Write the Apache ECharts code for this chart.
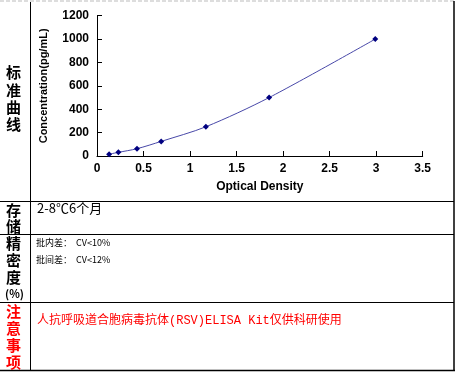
<!DOCTYPE html>
<html><head><meta charset="utf-8">
<script src="https://cdn.jsdelivr.net/npm/echarts@6/dist/echarts.min.js"></script>
<style>html,body{margin:0;padding:0;background:#fff}#c{width:456px;height:372px}</style>
</head><body><div id="c"></div>
<script>
const opticalDensity = [0.13, 0.23, 0.43, 0.69, 1.17, 1.85, 2.99];
const concentration = [15.6, 31.25, 62.5, 125, 250, 500, 1000];
const rowLabels = ['标准曲线', '存储', '精密度(%)', '注意事项'];
const storageText = '2-8℃6个月';
const precisionLines = ['批内差：  CV<10%', '批间差：  CV<12%'];
const noteText = '人抗呼吸道合胞病毒抗体(RSV)ELISA Kit仅供科研使用';

const chart = echarts.init(document.getElementById('c'));
const ax = {fontFamily: 'Liberation Sans, Arial', fontWeight: 'bold', fontSize: 12, color: '#000'};
const cjk = '"Noto Sans CJK SC"';
function vtext(chars, x, ys, color) {
  return chars.map((ch, i) => ({type: 'text', left: x, top: ys[i], style: {text: ch, fill: color, font: 'bold 15px ' + cjk, textAlign: 'center'}}));
}
const graphics = [
  {type: 'line', shape: {x1: 0, y1: 1, x2: 454, y2: 1}, style: {stroke: '#bbb', lineWidth: 1, lineDash: [4, 2]}},
  {type: 'line', shape: {x1: 30.5, y1: 2, x2: 30.5, y2: 370}, style: {stroke: '#000', lineWidth: 1}},
  {type: 'line', shape: {x1: 454, y1: 1, x2: 454, y2: 371}, style: {stroke: '#000', lineWidth: 1.5}},
  {type: 'line', shape: {x1: 0, y1: 370.5, x2: 455, y2: 370.5}, style: {stroke: '#000', lineWidth: 1.5}},
  {type: 'line', shape: {x1: 0, y1: 201.5, x2: 454, y2: 201.5}, style: {stroke: '#000', lineWidth: 1}},
  {type: 'line', shape: {x1: 0, y1: 234.5, x2: 454, y2: 234.5}, style: {stroke: '#000', lineWidth: 1}},
  {type: 'line', shape: {x1: 0, y1: 302.5, x2: 454, y2: 302.5}, style: {stroke: '#000', lineWidth: 1}},
  {type: 'text', left: 37, top: 202, style: {text: storageText, fill: '#000', font: '13px ' + cjk}},
  {type: 'text', left: 36, top: 238, style: {text: precisionLines[0], fill: '#000', font: '9px ' + cjk}},
  {type: 'text', left: 36, top: 255, style: {text: precisionLines[1], fill: '#000', font: '9px ' + cjk}},
  {type: 'text', left: 37, top: 315, style: {text: noteText, fill: '#f00', font: '12px "Liberation Mono", ' + cjk}}
];
const l0 = rowLabels[0].split('');
const l1 = rowLabels[1].split('');
const l2 = ['精', '密', '度', '(%)'];
const l3 = rowLabels[3].split('');
graphics.push(...vtext(l0, 6, [65, 83, 100, 117], '#000'));
graphics.push(...vtext(l1, 6, [203, 219], '#000'));
graphics.push(...vtext(l2.slice(0, 3), 6, [236, 253, 270], '#000'));
graphics.push({type: 'text', left: 5, top: 288, style: {text: l2[3], fill: '#000', font: 'bold 11px ' + cjk}});
graphics.push(...vtext(l3, 6, [304, 321, 338, 355], '#f00'));

chart.setOption({
  animation: false,
  grid: {left: 97, right: 33.3, top: 15.7, bottom: 216},
  xAxis: {
    type: 'value', min: 0, max: 3.5, interval: 0.5,
    name: 'Optical Density', nameLocation: 'middle', nameGap: 25,
    nameTextStyle: ax,
    axisLine: {lineStyle: {color: '#000'}},
    axisTick: {inside: true, length: 5, lineStyle: {color: '#000'}},
    axisLabel: Object.assign({margin: 7, formatter: v => String(v)}, ax),
    splitLine: {show: false}
  },
  yAxis: {
    type: 'value', min: 0, max: 1200, interval: 200,
    name: 'Concentration(pg/mL)', nameLocation: 'middle', nameGap: 48,
    nameTextStyle: Object.assign({}, ax, {fontSize: 11}),
    axisLine: {show: true, lineStyle: {color: '#000'}},
    axisTick: {show: true, inside: true, length: 5, lineStyle: {color: '#000'}},
    axisLabel: Object.assign({margin: 8, formatter: v => String(v)}, ax),
    splitLine: {show: false}
  },
  series: [{
    type: 'line', smooth: 0.3,
    data: opticalDensity.map((x, i) => [x, concentration[i]]),
    symbol: 'diamond', symbolSize: 6,
    itemStyle: {color: '#000080'},
    lineStyle: {color: '#4848a8', width: 1}
  }],
  graphic: graphics
});
</script></body></html>
